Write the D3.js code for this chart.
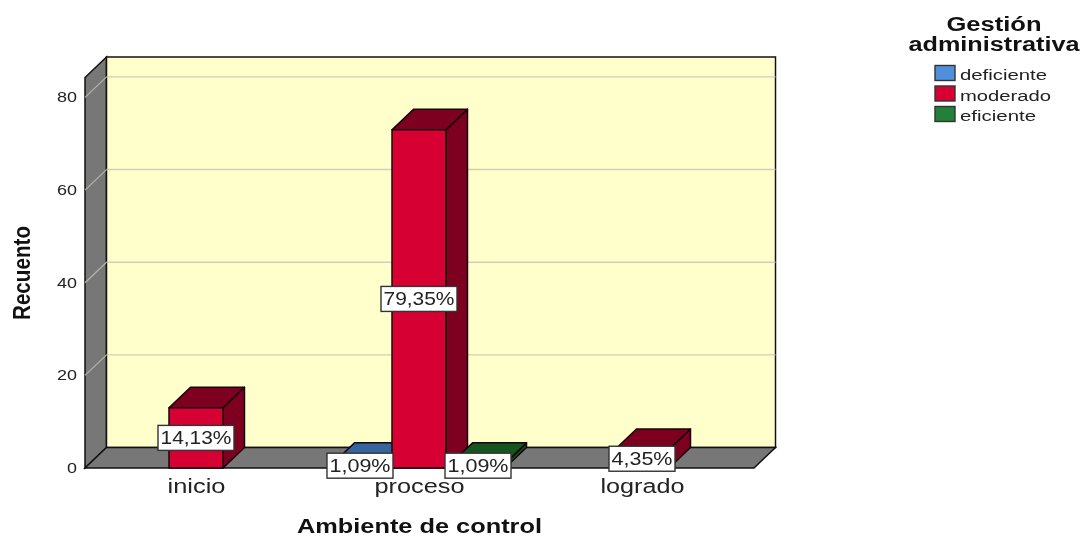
<!DOCTYPE html>
<html><head><meta charset="utf-8">
<script src="https://cdn.jsdelivr.net/npm/d3@7"></script>
<style>html,body{margin:0;padding:0;background:#fff}svg{display:block;filter:blur(0.35px)}text{font-family:"Liberation Sans",Arial,sans-serif}</style>
</head><body><svg id="c" width="1081" height="536"></svg>
<script>
const categories = ["inicio", "proceso", "logrado"];
const seriesNames = ["deficiente", "moderado", "eficiente"];
const deficienteValues = [0, 1, 0];
const moderadoValues = [13, 73, 4];
const eficienteValues = [0, 1, 0];
const deficienteLabels = ["", "1,09%", ""];
const moderadoLabels = ["14,13%", "79,35%", "4,35%"];
const eficienteLabels = ["", "1,09%", ""];
const yTicks = [0, 20, 40, 60, 80];
const frontColors = ["#4f8fdc", "#d60032", "#22803a"];
const topColors = ["#35659c", "#7d0020", "#15561f"];
const sideColors = ["#2c5786", "#7d0020", "#114a1a"];

const seriesValues = [deficienteValues, moderadoValues, eficienteValues];
const seriesLabels = [deficienteLabels, moderadoLabels, eficienteLabels];
const svg = d3.select("#c");
const dx = 21.5, dy = -20.5;
const x = d3.scaleBand().domain(categories).range([85, 754]);
const y = d3.scaleLinear().domain([0, 84.3]).range([468, 77.5]);
const x1 = d3.scaleBand().domain(seriesNames).range([-86.5, 85.5]).paddingInner(0.085).paddingOuter(0);
const poly = pts => pts.map(p => p.join(",")).join(" ");
const L = x.range()[0], R = x.range()[1], B = y(0), T = y.range()[1];

// walls
svg.append("polygon").attr("points", poly([[L,B],[L+dx,B+dy],[L+dx,T+dy],[L,T]])).attr("fill","#777").attr("stroke","#111").attr("stroke-width",1.5);
svg.append("rect").attr("x",L+dx).attr("y",T+dy).attr("width",R-L).attr("height",B-T).attr("fill","#ffffcc").attr("stroke","#111").attr("stroke-width",1.5);
svg.append("polygon").attr("points", poly([[L,B],[R,B],[R+dx,B+dy],[L+dx,B+dy]])).attr("fill","#777").attr("stroke","#111").attr("stroke-width",1.5);

// gridlines
const grid = svg.append("g");
yTicks.filter(d => d > 0).forEach(d => {
  grid.append("line").attr("x1",L+dx).attr("x2",R+dx).attr("y1",y(d)+dy).attr("y2",y(d)+dy).attr("stroke","#cfcfb4").attr("stroke-width",1.4);
  grid.append("line").attr("x1",L).attr("x2",L+dx).attr("y1",y(d)).attr("y2",y(d)+dy).attr("stroke","#b4b4a8").attr("stroke-width",1.2);
});

// bars: deficiente, moderado, eficiente so that the middle bar overlaps the first
const labels = [];
categories.forEach((c, ci) => {
  seriesNames.forEach((s, si) => {
    const v = seriesValues[si][ci];
    if (!v) return;
    const cx = x(c) + x.bandwidth()/2;
    const x0 = cx + x1(s), w = x1.bandwidth(), t = y(v);
    const g = svg.append("g").attr("stroke","#16060a").attr("stroke-width",1.5).attr("stroke-linejoin","round");
    g.append("polygon").attr("points",poly([[x0+w,B],[x0+w+dx,B+dy],[x0+w+dx,t+dy],[x0+w,t]])).attr("fill",sideColors[si]);
    g.append("polygon").attr("points",poly([[x0,t],[x0+w,t],[x0+w+dx,t+dy],[x0+dx,t+dy]])).attr("fill",topColors[si]);
    g.append("rect").attr("x",x0).attr("y",t).attr("width",w).attr("height",B-t).attr("fill",frontColors[si]);
    labels.push({text:seriesLabels[si][ci], cx:x0+w/2, cy:(t+B)/2});
  });
});

// data labels
labels.forEach(d => {
  const w = d.text.length >= 6 ? 76 : 66, h = 25;
  svg.append("rect").attr("x",d.cx-w/2).attr("y",d.cy-h/2).attr("width",w).attr("height",h).attr("fill","#fff").attr("stroke","#333").attr("stroke-width",1.4);
  svg.append("text").attr("x",d.cx).attr("y",d.cy+6.5).attr("text-anchor","middle").attr("font-size",18).attr("textLength",w-5).attr("lengthAdjust","spacingAndGlyphs").attr("fill","#222").text(d.text);
});

// axes
const ya = svg.append("g").attr("transform",`translate(${L-8},0)`).call(d3.axisLeft(y).tickValues(yTicks).tickSize(0).tickPadding(0));
ya.select(".domain").remove();
ya.selectAll("text").attr("font-size",14).attr("fill","#222").attr("textLength",d=>d===0?10:20).attr("lengthAdjust","spacingAndGlyphs").attr("font-family",'"Liberation Sans"');
const xa = svg.append("g").attr("transform",`translate(0,${B})`).call(d3.axisBottom(x).tickSize(0).tickPadding(11));
xa.select(".domain").remove();
const xLens = [58, 90, 84];
xa.selectAll("text").attr("font-size",20).attr("fill","#222").attr("textLength",(d,i)=>xLens[i]).attr("lengthAdjust","spacingAndGlyphs").attr("font-family",'"Liberation Sans"');

// titles
svg.append("text").attr("x",419.5).attr("y",533).attr("text-anchor","middle").attr("font-size",20).attr("font-weight","bold").attr("textLength",245).attr("lengthAdjust","spacingAndGlyphs").attr("fill","#111").text("Ambiente de control");
svg.append("text").attr("transform","translate(30,273) rotate(-90)").attr("text-anchor","middle").attr("font-size",24).attr("font-weight","bold").attr("textLength",94).attr("lengthAdjust","spacingAndGlyphs").attr("fill","#111").text("Recuento");

// legend
const lg = svg.append("g");
lg.append("text").attr("x",994).attr("y",31).attr("text-anchor","middle").attr("font-size",20).attr("font-weight","bold").attr("textLength",95).attr("lengthAdjust","spacingAndGlyphs").attr("fill","#111").text("Gestión");
lg.append("text").attr("x",994).attr("y",51).attr("text-anchor","middle").attr("font-size",20).attr("font-weight","bold").attr("textLength",171).attr("lengthAdjust","spacingAndGlyphs").attr("fill","#111").text("administrativa");
const legendY = d3.scaleBand().domain(seriesNames).range([65,126.5]);
seriesNames.forEach((s,i) => {
  lg.append("rect").attr("x",935).attr("y",legendY(s)+0.5).attr("width",20).attr("height",15).attr("fill",frontColors[i]).attr("stroke","#333").attr("stroke-width",1.4);
  lg.append("text").attr("x",960).attr("y",legendY(s)+15).attr("font-size",15.5).attr("textLength",[87,91,76][i]).attr("lengthAdjust","spacingAndGlyphs").attr("fill","#222").text(s);
});
</script></body></html>
